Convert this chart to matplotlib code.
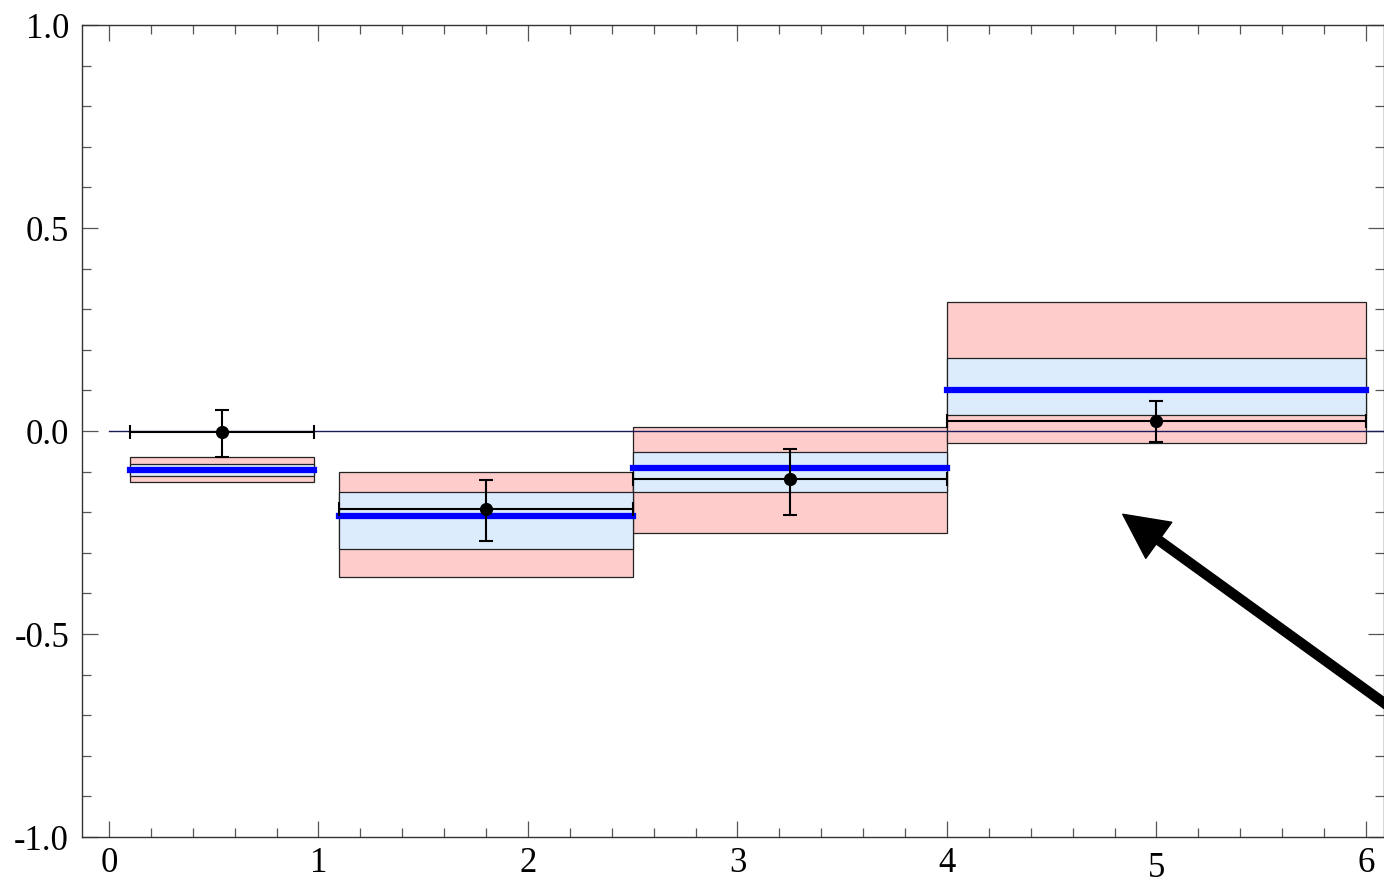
import matplotlib
matplotlib.use("Agg")
import matplotlib.pyplot as plt
from matplotlib.patches import Rectangle
from matplotlib.ticker import MultipleLocator, FormatStrFormatter

# q^2 bins and bands
bin_lo = [0.1, 1.1, 2.5, 4.0]
bin_hi = [0.98, 2.5, 4.0, 6.0]
outer_lo = [-0.126, -0.360, -0.250, -0.030]
outer_hi = [-0.063, -0.100, 0.011, 0.318]
inner_lo = [-0.110, -0.290, -0.150, 0.039]
inner_hi = [-0.080, -0.151, -0.051, 0.179]
central = [-0.095, -0.210, -0.091, 0.100]

# measured points
data_y = [-0.003, -0.191, -0.118, 0.024]
err_up = [0.056, 0.070, 0.074, 0.051]
err_dn = [0.060, 0.079, 0.089, 0.050]

x_ticks = [0, 1, 2, 3, 4, 5, 6]
y_ticks = [-1.0, -0.5, 0.0, 0.5, 1.0]

plt.rcParams.update({"font.family": ["Liberation Serif", "DejaVu Serif"],
                     "font.size": 25,
                     "axes.unicode_minus": False})

fig = plt.figure(figsize=(13.84, 8.82), dpi=100)
ax = fig.add_axes([0.0589, 0.051, 0.9411, 0.9206])

pink = "#ffcccc"
lblue = "#dcecfd"
edge = "#222222"

for i in range(len(bin_lo)):
    w = bin_hi[i] - bin_lo[i]
    ax.add_patch(Rectangle((bin_lo[i], outer_lo[i]), w, outer_hi[i] - outer_lo[i],
                           facecolor=pink, edgecolor=edge, lw=0.9, zorder=1))
    ax.add_patch(Rectangle((bin_lo[i], inner_lo[i]), w, inner_hi[i] - inner_lo[i],
                           facecolor=lblue, edgecolor=edge, lw=0.9, zorder=2))

# zero line
ax.plot([0, 6.5], [0, 0], color="#1c1c5c", lw=1.0, zorder=3)

# central predictions
for i in range(len(bin_lo)):
    ax.plot([bin_lo[i], bin_hi[i]], [central[i], central[i]], color="#0000ff",
            lw=4.5, solid_capstyle="projecting", zorder=4)

# data with errors
data_x = [(a + b) / 2 for a, b in zip(bin_lo, bin_hi)]
xerr = [(b - a) / 2 for a, b in zip(bin_lo, bin_hi)]
ax.errorbar(data_x, data_y, xerr=xerr, yerr=[err_dn, err_up], fmt="o", color="black",
            ms=8.5, elinewidth=1.5, capsize=5, capthick=1.5, zorder=5)

# arrow
ax.annotate("", xy=(4.839, -0.205), xytext=(6.65, -0.88),
            arrowprops=dict(facecolor="black", edgecolor="black", width=6.5,
                            headwidth=32, headlength=32), zorder=6)

ax.set_xlim(-0.131, 6.086)
ax.set_ylim(-1.0, 1.0)
ax.set_xticks(x_ticks)
ax.set_xticklabels([str(t) for t in x_ticks])
ax.set_yticks(y_ticks)
ax.yaxis.set_major_formatter(FormatStrFormatter("%.1f"))
ax.xaxis.set_minor_locator(MultipleLocator(0.2))
ax.yaxis.set_minor_locator(MultipleLocator(0.1))
ax.tick_params(which="both", direction="in", top=True, right=True, color="#555555", width=0.9)
ax.tick_params(which="major", length=11.3)
ax.tick_params(which="minor", length=6.8)
ax.tick_params(axis="x", pad=7)
ax.tick_params(axis="y", pad=9)
for s in ax.spines.values():
    s.set_color("#333333")
    s.set_linewidth(1.0)

# the "5" sits a bit lower in the original
ax.xaxis.get_major_ticks()[5].set_pad(10.5)

fig.savefig("out.png", dpi=100)
